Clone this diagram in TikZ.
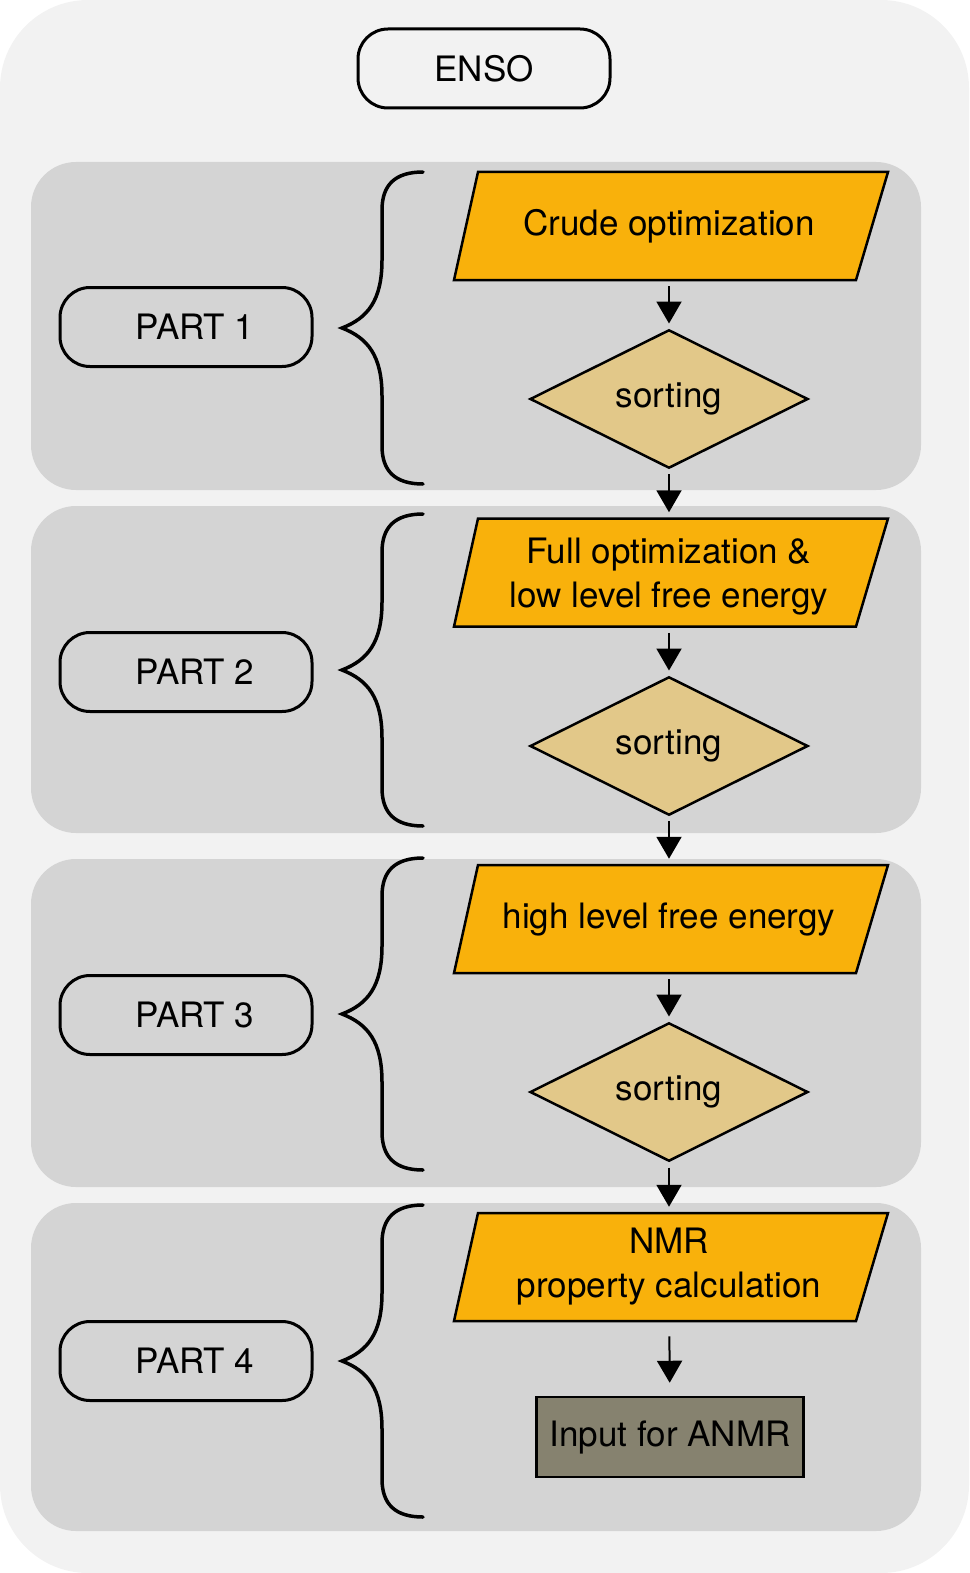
\documentclass[tikz,border=0pt]{standalone}
\usepackage{fontspec}
\setmainfont{TeX Gyre Heros}
\usetikzlibrary{shapes.geometric,arrows.meta}
\definecolor{outerbg}{HTML}{F2F2F2}
\definecolor{panelbg}{HTML}{D4D4D4}
\definecolor{paraorange}{HTML}{F9B10B}
\definecolor{diamtan}{HTML}{E2C889}
\definecolor{rectgray}{HTML}{86826F}
\tikzset{
  pillbox/.style={draw, line width=3pt, rounded corners=30pt, minimum width=252pt, minimum height=79pt, inner sep=0pt},
  paraanchor/.style={rectangle, draw=none, minimum width=400pt, minimum height=108pt, inner sep=0pt, outer sep=1.25pt},
  parashape/.style={draw, line width=2.5pt, fill=paraorange, line join=miter},
  paratext/.style={align=center, inner sep=0pt},
  sortbox/.style={diamond, draw, line width=2.5pt, fill=diamtan, minimum width=278pt, minimum height=137pt, inner sep=0pt},
  outbox/.style={rectangle, draw, line width=2.5pt, fill=rectgray, minimum width=267pt, minimum height=80pt, inner sep=0pt},
  flow/.style={line width=2pt, -{Triangle[width=25pt,length=22pt]}, shorten <=5pt, shorten >=5pt},
  bracestyle/.style={line width=3.5pt, line cap=round},
  panel/.style={fill=panelbg, rounded corners=45pt}
}
\newcommand\partbrace[1]{%
  \draw[bracestyle] (423,#1-156) .. controls (395,#1-156) and (382,#1-143) .. (382,#1-118)
    -- (382,#1-68) .. controls (382,#1-28) and (368,#1-10) .. (342,#1)
    .. controls (368,#1+10) and (382,#1+28) .. (382,#1+68)
    -- (382,#1+118) .. controls (382,#1+143) and (395,#1+156) .. (423,#1+156);}
\newcommand\paraat[4]{%
  \node[paraanchor] (#1) at (669,#2) {};
  \filldraw[parashape] (454,#2+54) -- (478,#2-54) -- (888,#2-54) -- (856,#2+54) -- cycle;
  \node[paratext] (#1t) at ([yshift=#3]#1.center) {#4};}
\begin{document}
\begin{tikzpicture}[x=1pt,y=-1pt,font=\fontsize{35}{44}\selectfont]
\useasboundingbox (0,0) rectangle (969,1573);
\fill[outerbg, rounded corners=88pt] (0,0) rectangle (969,1573);
\fill[panel] (31,162) rectangle (921,490);
\fill[panel] (31,506) rectangle (921,833);
\fill[panel] (31,859) rectangle (921,1187);
\fill[panel] (31,1203) rectangle (921,1531);

\node[pillbox] (enso) at (484,68.5) {ENSO};
\node[pillbox] (part1) at (186,327) {\hspace*{18pt}PART 1};
\node[pillbox] (part2) at (186,672) {\hspace*{18pt}PART 2};
\node[pillbox] (part3) at (186,1015) {\hspace*{18pt}PART 3};
\node[pillbox] (part4) at (186,1361) {\hspace*{18pt}PART 4};

\partbrace{328}
\partbrace{670}
\partbrace{1014}
\partbrace{1361}

\paraat{p1}{226}{0pt}{Crude optimization}
\node[sortbox] (d1) at (669,399) {sorting};
\paraat{p2}{572.5}{-4pt}{Full optimization \&\\low level free energy}
\node[sortbox] (d2) at (669,746) {sorting};
\paraat{p3}{919}{0pt}{high level free energy}
\node[sortbox] (d3) at (669,1092) {sorting};
\paraat{p4}{1267}{0pt}{NMR\\property calculation}
\node[outbox] (r) at (670,1437) {Input for ANMR};

\draw[flow] (p1) -- (d1);
\draw[flow] (d1) -- (p2);
\draw[flow] (p2) -- (d2);
\draw[flow] (d2) -- (p3);
\draw[flow] (p3) -- (d3);
\draw[flow] (d3) -- (p4);
\draw[flow, shorten <=14pt, shorten >=13pt] (p4) -- (r);
\end{tikzpicture}
\end{document}
